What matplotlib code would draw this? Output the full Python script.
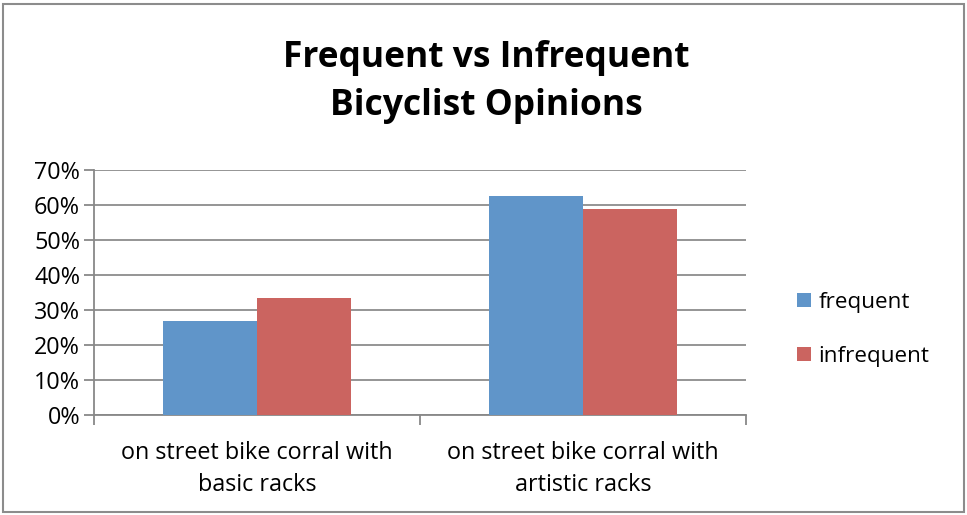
import numpy as np
import matplotlib.pyplot as plt
from matplotlib.patches import Rectangle
from matplotlib.ticker import FuncFormatter

categories = ['on street bike corral with\nbasic racks', 'on street bike corral with\nartistic racks']
series = ['frequent', 'infrequent']
frequent = [26.9, 62.6]
infrequent = [33.4, 58.9]
colors = ['#6095c9', '#cb6460']

plt.rcParams['font.family'] = ['Open Sans', 'DejaVu Sans']

fig = plt.figure(figsize=(9.67, 5.15), dpi=100)
ax = fig.add_axes([94 / 967, 100 / 515, 652 / 967, 245 / 515])

# outer chart frame
fig.patches.append(Rectangle((3 / 967, 3 / 515), 961 / 967, 508 / 515, transform=fig.transFigure,
                             fill=False, edgecolor='#8c8c8c', linewidth=1.5))

x = np.arange(len(categories))
w = 0.287
ax.bar(x - w / 2, frequent, w, color=colors[0], label=series[0], zorder=3)
ax.bar(x + w / 2, infrequent, w, color=colors[1], label=series[1], zorder=3)

ax.set_xlim(-0.5, 1.5)
ax.set_ylim(0, 70)
ax.set_yticks(np.arange(0, 71, 10))
ax.yaxis.set_major_formatter(FuncFormatter(lambda v, p: f'{v:.0f}%'))
ax.set_xticks([-0.5, 0.5, 1.5], minor=False)
ax.set_xticklabels([])
ax.set_xticks(x, minor=True)
ax.set_xticklabels(categories, minor=True, fontsize=16.8, linespacing=1.4)
ax.tick_params(axis='x', which='minor', length=0, pad=19)
ax.tick_params(axis='x', which='major', length=7, direction='out', color='#888888', width=1.3)
ax.tick_params(axis='y', length=7, direction='out', color='#888888', width=1.3, labelsize=16.8, pad=3)
ax.grid(axis='y', color='#8c8c8c', linewidth=1.3, zorder=0)
for s in ['top', 'right']:
    ax.spines[s].set_visible(False)
for s in ['left', 'bottom']:
    ax.spines[s].set_color('#888888')
    ax.spines[s].set_linewidth(1.3)

fig.suptitle('Frequent vs Infrequent\nBicyclist Opinions', x=486 / 967, y=1 - 40 / 515,
             fontsize=25.5, fontweight='bold', linespacing=1.45, va='top')

fig.legend(loc='upper left', bbox_to_anchor=(777 / 967, 1 - 272 / 515), frameon=False,
           fontsize=16.2, handlelength=0.6, handleheight=0.6, handletextpad=0.35,
           labelspacing=1.45)

fig.savefig('out.png', dpi=100)
